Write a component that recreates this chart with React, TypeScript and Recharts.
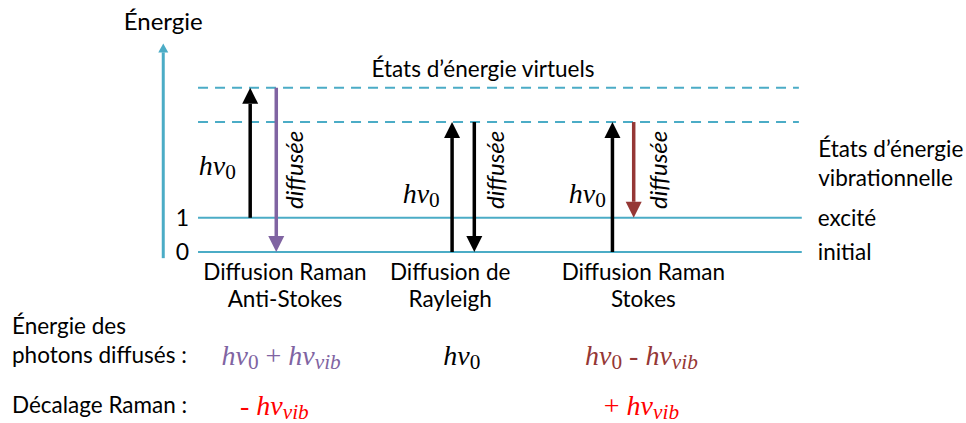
import { ComposedChart, XAxis, YAxis, ReferenceLine, ReferenceDot, Label } from 'recharts'

const TEAL = '#4bacc6'
const PURPLE = '#8064a2'
const BROWN = '#953735'
const RED = '#ff0000'
const TEXT_FONT = 'Lato, "Open Sans", sans-serif'
const MATH_FONT = '"Liberation Serif", "DejaVu Serif", serif'
const TEXT_SIZE = 22.5

// niveaux d'énergie
const levelEnergy = [0, 1]
const levelTick = ['0', '1']
const levelName = ['initial', 'excité']
const virtualEnergy = [3.8, 4.8]
const levelStart = 20.5
const levelEnd = 83
const axisX = 16.9
const axisBottom = -0.18
const axisTop = 6.1

// les trois processus
const processNames = [
  ['Diffusion Raman', 'Anti-Stokes'],
  ['Diffusion de', 'Rayleigh'],
  ['Diffusion Raman', 'Stokes'],
]
const processX = [29.5, 46.6, 66.6]
const upX = [25.9, 46.8, 63.4]
const upFrom = [1, 0, 0]
const upTo = [4.8, 3.8, 3.8]
const downX = [28.6, 49.1, 65.6]
const downFrom = [4.8, 3.8, 3.8]
const downTo = [0, 0, 1]
const downColor = [PURPLE, '#000000', BROWN]
const hvX = [22.5, 43.6, 60.8]
const hvY = [2.54, 1.73, 1.73]
const diffX = [30.4, 51.2, 68.1]
const diffY = [2.4, 2.4, 2.4]

// lignes du bas
const photonEnergy = ['hν_{0} + hν_{vib}', 'hν_{0}', 'hν_{0} - hν_{vib}']
const photonColor = [PURPLE, '#000000', BROWN]
const photonX = [29.1, 47.8, 66.4]
const ramanShift = ['- hν_{vib}', '', '+ hν_{vib}']
const shiftX = [28.4, 0, 66.4]

const rowY = { title: 6.78, virtual: 5.38, cat1: -0.56, cat2: -1.35, photon1: -2.16, photon2: -3.01, shift: -4.47 }
const leftX = 1.24
const rightX = 84.7

function MathText({ x, y, formula, color, size, anchor = 'middle' }: any) {
  const parts = formula.split(/(_\{[^}]*\})/).filter((s: string) => s.length)
  const shift = size * 0.24
  let lowered = false
  const spans: any[] = []
  parts.forEach((p: string, i: number) => {
    if (p.startsWith('_{')) {
      const t = p.slice(2, -1)
      spans.push(
        <tspan key={i} dy={shift} fontSize={size * 0.76} fontStyle={/^\d+$/.test(t) ? 'normal' : 'italic'}>
          {t}
        </tspan>
      )
      lowered = true
    } else {
      const bits = p.split(/([+\-])/).filter((s) => s.length)
      bits.forEach((b, j) => {
        const dy = lowered ? -shift : 0
        lowered = false
        spans.push(
          <tspan key={`${i}-${j}`} dy={dy} fontStyle={/[+\-]/.test(b) ? 'normal' : 'italic'}>
            {b}
          </tspan>
        )
      })
    }
  })
  return (
    <text x={x} y={y} fill={color} fontSize={size} fontFamily={MATH_FONT} textAnchor={anchor} dominantBaseline="central">
      {spans}
    </text>
  )
}

const arrowShape = (color: string, width: number, head: number, half: number) => (props: any) => {
  const { x1, y1, x2, y2 } = props
  const dir = y2 < y1 ? -1 : 1
  const baseY = y2 - dir * head
  return (
    <g>
      <line x1={x1} y1={y1} x2={x2} y2={baseY} stroke={color} strokeWidth={width} />
      <polygon points={`${x2},${y2} ${x2 - half},${baseY} ${x2 + half},${baseY}`} fill={color} />
    </g>
  )
}

const textShape = (value: string, opts: any = {}) => (p: any) => (
  <text
    x={p.cx}
    y={p.cy}
    fontFamily={TEXT_FONT}
    fontSize={opts.size ?? TEXT_SIZE}
    fill={opts.color ?? '#000'}
    textAnchor={opts.anchor ?? 'middle'}
    dominantBaseline="central"
  >
    {value}
  </text>
)

export default function App() {
  return (
    <div style={{ position: 'absolute', left: 0, top: 0, background: '#fff' }}>
      <ComposedChart width={966} height={423} margin={{ top: 12.6, right: 0, bottom: 0, left: 0 }} data={[]}>
        <XAxis type="number" dataKey="x" domain={[0, 100]} allowDataOverflow hide />
        <YAxis type="number" domain={[-5, 7]} allowDataOverflow hide />

        {/* axe d'énergie */}
        <ReferenceLine
          segment={[{ x: axisX, y: axisBottom }, { x: axisX, y: axisTop }]}
          shape={arrowShape(TEAL, 3, 9, 5)}
        />
        <ReferenceDot x={axisX} y={rowY.title} r={0} ifOverflow="visible" shape={textShape('Énergie', { size: 24 })} />

        {/* niveaux virtuels */}
        {virtualEnergy.map((e) => (
          <ReferenceLine
            key={`v${e}`}
            segment={[{ x: levelStart, y: e }, { x: levelEnd - 0.3, y: e }]}
            stroke={TEAL}
            strokeWidth={2}
            strokeDasharray="10 7"
          />
        ))}
        <ReferenceDot x={50} y={rowY.virtual} r={0} ifOverflow="visible" shape={textShape('États d’énergie virtuels')} />

        {/* niveaux vibrationnels */}
        {levelEnergy.map((e, i) => (
          <ReferenceLine
            key={`l${e}`}
            segment={[{ x: levelStart, y: e }, { x: levelEnd, y: e }]}
            stroke={TEAL}
            strokeWidth={2}
          >
            <Label value={levelTick[i]} position="left" offset={9} fontSize={23} fill="#000" fontFamily={TEXT_FONT} />
            <Label value={levelName[i]} position="right" offset={16} fontSize={TEXT_SIZE} fill="#000" fontFamily={TEXT_FONT} />
          </ReferenceLine>
        ))}
        <ReferenceDot x={rightX} y={3.04} r={0} ifOverflow="visible" shape={textShape('États d’énergie', { anchor: 'start' })} />
        <ReferenceDot x={rightX} y={2.19} r={0} ifOverflow="visible" shape={textShape('vibrationnelle', { anchor: 'start' })} />

        {/* transitions */}
        {upX.map((x, i) => (
          <ReferenceLine
            key={`u${i}`}
            segment={[{ x, y: upFrom[i] }, { x, y: upTo[i] }]}
            shape={arrowShape('#000', 3.5, 16, 8)}
          />
        ))}
        {downX.map((x, i) => (
          <ReferenceLine
            key={`d${i}`}
            segment={[{ x, y: downFrom[i] }, { x, y: downTo[i] }]}
            shape={arrowShape(downColor[i], 3.5, 16, 8)}
          />
        ))}
        {hvX.map((x, i) => (
          <ReferenceDot
            key={`h${i}`}
            x={x}
            y={hvY[i]}
            r={0}
            ifOverflow="visible"
            shape={(p: any) => <MathText x={p.cx} y={p.cy} formula="hν_{0}" color="#000" size={28} />}
          />
        ))}
        {diffX.map((x, i) => (
          <ReferenceDot
            key={`f${i}`}
            x={x}
            y={diffY[i]}
            r={0}
            ifOverflow="visible"
            shape={(p: any) => (
              <text
                x={p.cx}
                y={p.cy}
                transform={`rotate(-90 ${p.cx} ${p.cy})`}
                fontFamily={TEXT_FONT}
                fontStyle="italic"
                fontSize={24}
                textAnchor="middle"
                dominantBaseline="central"
              >
                diffusée
              </text>
            )}
          />
        ))}

        {/* noms des processus */}
        {processX.map((x, i) => (
          <ReferenceDot key={`c1${i}`} x={x} y={rowY.cat1} r={0} ifOverflow="visible" shape={textShape(processNames[i][0])} />
        ))}
        {processX.map((x, i) => (
          <ReferenceDot key={`c2${i}`} x={x} y={rowY.cat2} r={0} ifOverflow="visible" shape={textShape(processNames[i][1])} />
        ))}

        {/* énergies et décalages */}
        <ReferenceDot x={leftX} y={rowY.photon1} r={0} ifOverflow="visible" shape={textShape('Énergie des', { anchor: 'start' })} />
        <ReferenceDot x={leftX} y={rowY.photon2} r={0} ifOverflow="visible" shape={textShape('photons diffusés :', { anchor: 'start' })} />
        <ReferenceDot x={leftX} y={rowY.shift} r={0} ifOverflow="visible" shape={textShape('Décalage Raman :', { anchor: 'start' })} />
        {photonX.map((x, i) => (
          <ReferenceDot
            key={`p${i}`}
            x={x}
            y={rowY.photon2}
            r={0}
            ifOverflow="visible"
            shape={(p: any) => <MathText x={p.cx} y={p.cy} formula={photonEnergy[i]} color={photonColor[i]} size={28} />}
          />
        ))}
        {shiftX.map((x, i) =>
          ramanShift[i] ? (
            <ReferenceDot
              key={`s${i}`}
              x={x}
              y={rowY.shift}
              r={0}
              ifOverflow="visible"
              shape={(p: any) => <MathText x={p.cx} y={p.cy} formula={ramanShift[i]} color={RED} size={28} />}
            />
          ) : null
        )}
      </ComposedChart>
    </div>
  )
}
